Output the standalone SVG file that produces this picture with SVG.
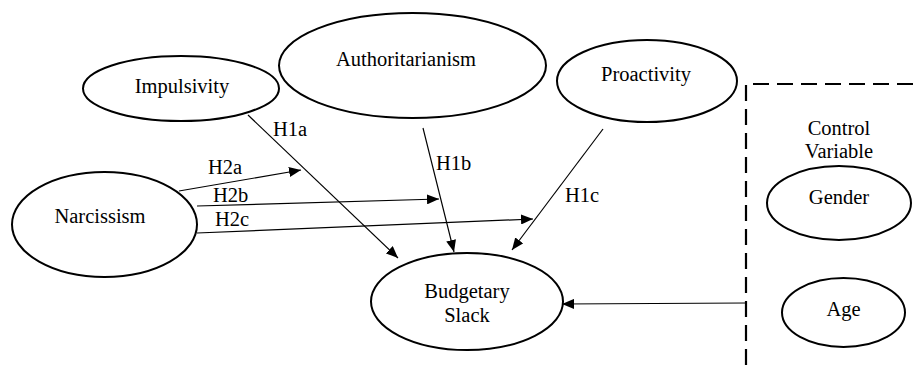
<svg xmlns="http://www.w3.org/2000/svg" width="921" height="365" viewBox="0 0 921 365">
<defs>
<marker id="ah" viewBox="0 0 12 10" refX="12" refY="5" markerWidth="12" markerHeight="10" markerUnits="userSpaceOnUse" orient="auto">
<path d="M0,0 L12,5 L0,10 Z" fill="#000"/>
</marker>
<style>
.n{fill:#fff;stroke:#000;stroke-width:2}
.t{font-size:20.5px;fill:#000;text-anchor:middle}
.l{font-size:20.5px;fill:#000}
.c{stroke:#000;stroke-width:1.2;fill:none;marker-end:url(#ah)}
.d{stroke:#000;stroke-width:2.2;fill:none;stroke-dasharray:16 8}
</style>
</defs>
<rect width="921" height="365" fill="#fff"/>
<g font-family="Liberation Serif, Tinos, DejaVu Serif, serif">
<g id="control-box">
<path class="d" d="M746,365 L746,84 L921,84"/>
<text class="t" x="839" y="135">Control</text>
<text class="t" x="839" y="158">Variable</text>
</g>
<g id="connectors">
<line class="c" x1="248" y1="115" x2="398" y2="258"/>
<line class="c" x1="423" y1="128" x2="454" y2="252"/>
<line class="c" x1="603" y1="129" x2="512" y2="250"/>
<line class="c" x1="179" y1="191" x2="301" y2="170"/>
<line class="c" x1="197" y1="206" x2="439" y2="199"/>
<line class="c" x1="197" y1="233" x2="533" y2="219"/>
<line class="c" x1="746" y1="303" x2="562" y2="304"/>
<text class="l" x="273" y="136">H1a</text>
<text class="l" x="436" y="170">H1b</text>
<text class="l" x="565" y="202">H1c</text>
<text class="l" x="208" y="174">H2a</text>
<text class="l" x="213" y="202">H2b</text>
<text class="l" x="215" y="226">H2c</text>
</g>
<g id="impulsivity">
<ellipse class="n" cx="181" cy="88.5" rx="98" ry="32.5"/>
<text class="t" x="182" y="93">Impulsivity</text>
</g>
<g id="authoritarianism">
<ellipse class="n" cx="412.5" cy="65.5" rx="133.5" ry="52.5"/>
<text class="t" x="406" y="66">Authoritarianism</text>
</g>
<g id="proactivity">
<ellipse class="n" cx="647" cy="81" rx="90" ry="41"/>
<text class="t" x="646" y="81">Proactivity</text>
</g>
<g id="narcissism">
<ellipse class="n" cx="104.5" cy="224.5" rx="92.5" ry="52.5"/>
<text class="t" x="100" y="223">Narcissism</text>
</g>
<g id="budgetary-slack">
<ellipse class="n" cx="467" cy="301.5" rx="96" ry="48.5"/>
<text class="t" x="467" y="298">Budgetary</text>
<text class="t" x="467" y="322">Slack</text>
</g>
<g id="gender">
<ellipse class="n" cx="839" cy="203" rx="72" ry="37"/>
<text class="t" x="839" y="204">Gender</text>
</g>
<g id="age">
<ellipse class="n" cx="843.5" cy="312.5" rx="61.5" ry="34.5"/>
<text class="t" x="843.5" y="316">Age</text>
</g>
</g>
</svg>
